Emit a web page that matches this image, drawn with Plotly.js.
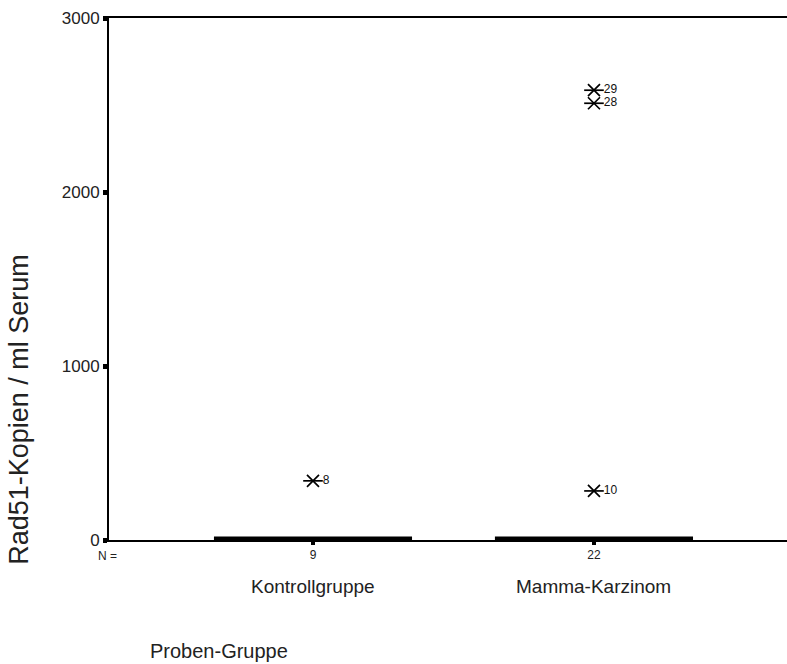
<!DOCTYPE html>
<html>
<head>
<meta charset="utf-8">
<script src="https://cdn.plot.ly/plotly-3.0.1.min.js"></script>
<style>
  html, body { margin: 0; padding: 0; background: #fff; }
  #chart { width: 787px; height: 664px; }
</style>
</head>
<body>
<div id="chart"></div>
<script>
// Groups and their sample counts
const groups = ["Kontrollgruppe", "Mamma-Karzinom"];
const groupN = ["9", "22"];

// Box statistics per group (all quartiles collapse to zero)
const q1Values = [0, 0];
const medianValues = [0, 0];
const q3Values = [0, 0];
const lowerFences = [0, 0];
const upperFences = [0, 0];

// Extreme values with their case numbers
const extremeGroup = ["Kontrollgruppe", "Mamma-Karzinom", "Mamma-Karzinom", "Mamma-Karzinom"];
const extremeValue = [340, 2585, 2510, 282];
const extremeCase = ["8", "29", "28", "10"];

// Y axis ticks
const yTicks = [0, 1000, 2000, 3000];

const font = "Liberation Sans, Arial, sans-serif";

const boxTrace = {
  type: "box",
  x: groups,
  q1: q1Values,
  median: medianValues,
  q3: q3Values,
  lowerfence: lowerFences,
  upperfence: upperFences,
  boxpoints: false,
  width: 0.705,
  whiskerwidth: 1,
  fillcolor: "#000",
  line: { color: "#000", width: 7 },
  hoverinfo: "skip",
  showlegend: false
};

// Extreme-value star: a diagonal cross plus a horizontal bar
const extremeCross = {
  type: "scatter",
  mode: "markers",
  x: extremeGroup,
  y: extremeValue,
  marker: {
    symbol: "x-thin-open",
    size: 12,
    color: "#000",
    line: { color: "#000", width: 1.7 }
  },
  cliponaxis: false,
  showlegend: false
};

const extremeBar = {
  type: "scatter",
  mode: "markers+text",
  x: extremeGroup,
  y: extremeValue,
  text: extremeCase,
  textposition: "middle right",
  textfont: { family: font, size: 12, color: "#111" },
  marker: {
    symbol: "line-ew-open",
    size: 14,
    color: "#000",
    line: { color: "#000", width: 1.7 }
  },
  cliponaxis: false,
  showlegend: false
};

const layout = {
  width: 787,
  height: 664,
  margin: { l: 109, r: 0, t: 18, b: 124 },
  paper_bgcolor: "#fff",
  plot_bgcolor: "#fff",
  font: { family: font, color: "#222" },
  showlegend: false,
  xaxis: {
    type: "category",
    categoryorder: "array",
    categoryarray: groups,
    range: [-0.726, 1.687],
    showgrid: false,
    zeroline: false,
    showline: true,
    linecolor: "#000",
    linewidth: 2,
    mirror: true,
    ticks: "outside",
    ticklen: 3,
    tickwidth: 4,
    tickcolor: "#000",
    tickmode: "array",
    tickvals: groups,
    ticktext: groupN,
    tickfont: { family: font, size: 12, color: "#222" }
  },
  yaxis: {
    range: [0, 3000],
    showgrid: false,
    zeroline: false,
    showline: true,
    linecolor: "#000",
    linewidth: 2,
    ticks: "outside",
    ticklen: 4,
    tickwidth: 5,
    tickcolor: "#000",
    tickmode: "array",
    tickvals: yTicks,
    ticktext: yTicks.map(String),
    tickfont: { family: font, size: 17, color: "#222" }
  },
  annotations: [
    {
      text: "N =",
      xref: "paper", yref: "paper",
      x: -0.002, y: -0.0307,
      xanchor: "center", yanchor: "middle",
      showarrow: false,
      font: { family: font, size: 12, color: "#222" }
    },
    ...groups.map(g => ({
      text: g,
      xref: "x", yref: "paper",
      x: g, y: -0.09,
      xanchor: "center", yanchor: "middle",
      showarrow: false,
      font: { family: font, size: 19, color: "#222" }
    })),
    {
      text: "Proben-Gruppe",
      xref: "paper", yref: "paper",
      x: 0.0575, y: -0.2126,
      xanchor: "left", yanchor: "middle",
      showarrow: false,
      font: { family: font, size: 20, color: "#222" }
    },
    {
      text: "Rad51-Kopien / ml Serum",
      xref: "paper", yref: "paper",
      x: -0.133, y: 0.251,
      xanchor: "center", yanchor: "middle",
      textangle: -90,
      showarrow: false,
      font: { family: font, size: 27, color: "#222" }
    }
  ]
};

Plotly.newPlot("chart", [boxTrace, extremeCross, extremeBar], layout, { staticPlot: true, displayModeBar: false });
</script>
</body>
</html>
